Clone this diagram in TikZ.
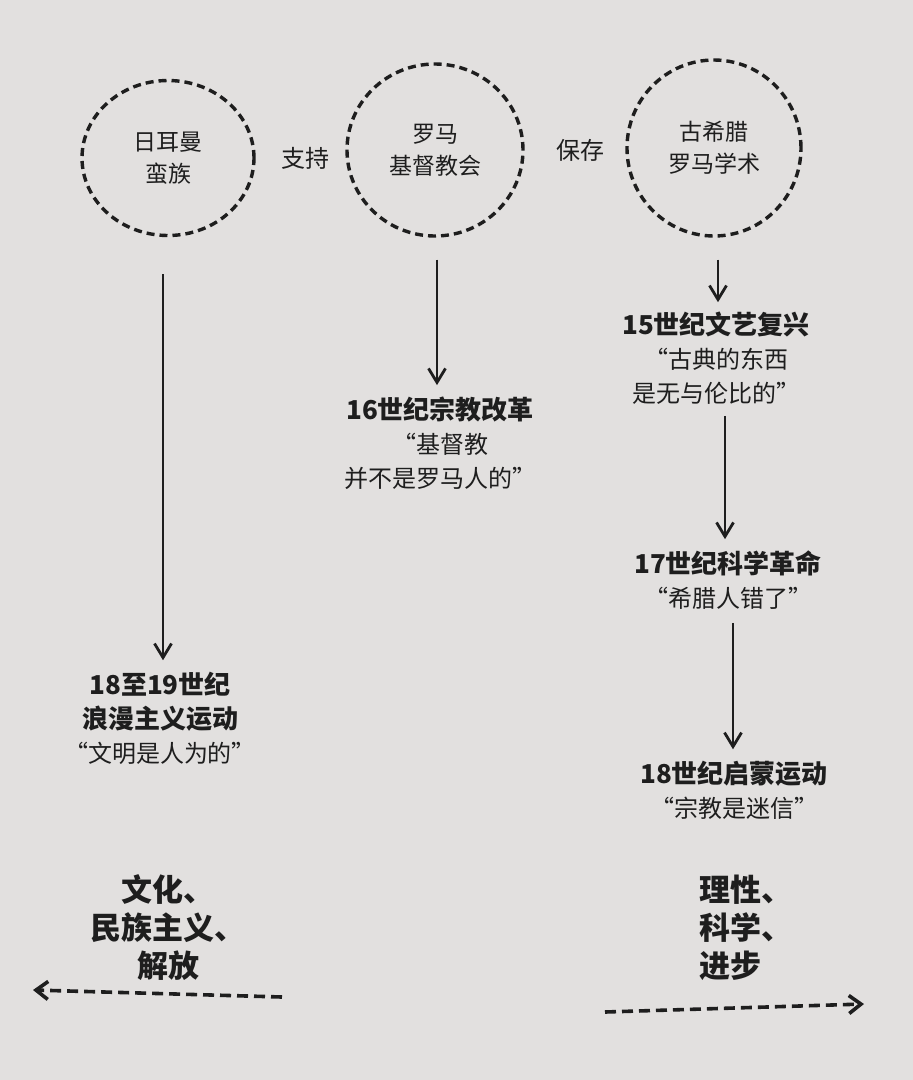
\documentclass[tikz,border=0pt]{standalone}
\usepackage{fontspec}
\setmainfont{Noto Sans CJK SC}
\usetikzlibrary{shapes,arrows.meta,positioning}
\definecolor{paper}{HTML}{E2E0DF}
\definecolor{ink}{HTML}{1E1E1E}

\begin{document}
\begin{tikzpicture}[x=1pt,y=-1pt,
    circ/.style={ellipse, draw=ink, line width=3.4pt, dash pattern=on 8pt off 5pt, text=ink, align=center, inner sep=0pt, font=\fontsize{23}{32}\selectfont},
    event/.style={align=center, text=ink, font=\fontsize{24}{34}\selectfont},
    flow/.style={draw=ink, line width=2.8pt, -{Straight Barb[length=14pt,width=17pt,line width=2.8pt]}},
    trend/.style={draw=ink, line width=3.6pt, dash pattern=on 11pt off 6pt, -{Straight Barb[length=12pt,width=18pt]}}]
        % Page
        \fill[paper] (0,0) rectangle (913,1080);

        % Sources
        \node[circ, minimum width=172, minimum height=155] (german) at (168,158) {日耳曼\\蛮族};
        \node[circ, minimum width=176, minimum height=172] (church) at (435,150) {罗马\\基督教会};
        \node[circ, minimum width=174, minimum height=176] (classic) at (714,148) {古希腊\\罗马学术};
        \node[event] (support) at (305,158) {支持};
        \node[event] (preserve) at (580,150) {保存};

        % Events
        \node[event] (renaissance) at (716,358) {\textbf{\fontsize{26}{34}\selectfont 15世纪文艺复兴}\\“古典的东西\\是无与伦比的”};
        \node[event] (reformation) at (440,443) {\textbf{\fontsize{26}{34}\selectfont 16世纪宗教改革}\\“基督教\\并不是罗马人的”};
        \node[event] (science) at (728,580) {\textbf{\fontsize{26}{34}\selectfont 17世纪科学革命}\\“希腊人错了”};
        \node[event] (romantic) at (160,718) {\textbf{\fontsize{26}{34}\selectfont 18至19世纪}\\\textbf{\fontsize{26}{34}\selectfont 浪漫主义运动}\\“文明是人为的”};
        \node[event] (enlighten) at (734,790) {\textbf{\fontsize{26}{34}\selectfont 18世纪启蒙运动}\\“宗教是迷信”};

        % Flow
        \draw[flow, shorten <=37pt, shorten >=8pt] ([xshift=-5pt]german.south) -- ([xshift=-5pt]german.south |- romantic.north);
        \draw[flow, shorten <=22pt, shorten >=8pt] ([xshift=2pt]church.south) -- ([xshift=2pt]church.south |- reformation.north);
        \draw[flow, shorten <=22pt, shorten >=6pt] ([xshift=4pt]classic.south) -- ([xshift=4pt]classic.south |- renaissance.north);
        \draw[flow, shorten <=8pt, shorten >=8pt] ([xshift=9pt]renaissance.south) -- ([xshift=9pt]renaissance.south |- science.north);
        \draw[flow, shorten <=10pt, shorten >=8pt] ([xshift=5pt]science.south) -- ([xshift=5pt]science.south |- enlighten.north);

        % Legacies
        \node[event, font=\bfseries\fontsize{31}{38}\selectfont] (nation) at (168,928) {文化、\\民族主义、\\解放};
        \node[event, align=left, font=\bfseries\fontsize{31}{38}\selectfont] (reason) at (746,928) {理性、\\科学、\\进步};
        \coordinate (lstart) at (282,997);
        \coordinate (lend) at (33,990);
        \coordinate (rstart) at (605,1012);
        \coordinate (rend) at (864,1004);
        \draw[trend] (lstart) -- (lend);
        \draw[trend] (rstart) -- (rend);
    \end{tikzpicture}
\end{document}
